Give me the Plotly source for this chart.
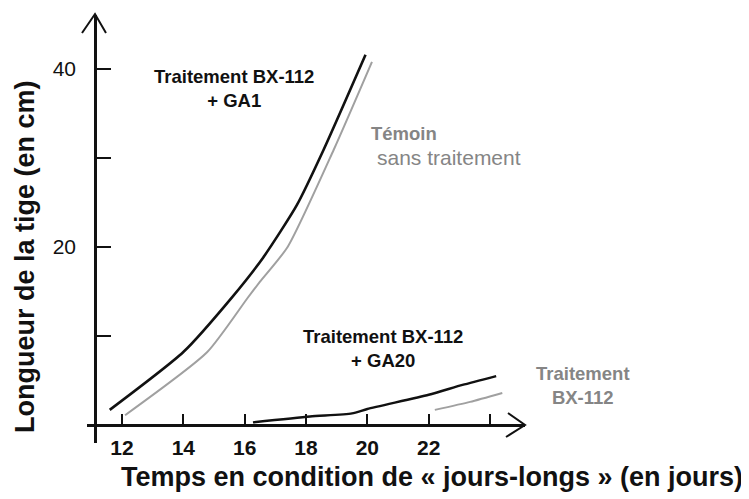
import plotly.graph_objects as go

# ---- data ----
days_ga1 = [11.6, 14.0, 15.6, 16.6, 17.7, 18.57, 19.94]
len_ga1 = [1.7, 8.2, 14.4, 18.8, 24.7, 30.9, 41.6]

days_temoin = [12.1, 14.78, 16.1, 16.5, 17.4, 18.9, 20.15]
len_temoin = [1.1, 8.2, 14.3, 16.1, 20.0, 30.9, 40.8]

days_ga20 = [16.27, 18.13, 19.5, 20.0, 22.0, 23.1, 24.2]
len_ga20 = [0.3, 0.95, 1.3, 1.8, 3.4, 4.5, 5.5]

days_bx = [22.2, 23.35, 24.4]
len_bx = [1.7, 2.6, 3.6]

x_tickvals = [12, 14, 16, 18, 20, 22, 24]
x_ticktext = ["12", "14", "16", "18", "20", "22", ""]
y_tickvals = [10, 20, 30, 40]
y_ticktext = ["", "20", "", "40"]

OFF = 8  # page body margin
FW, FH = 749 - OFF, 499 - OFF
BLACK = "#111111"
GRAY_LINE = "#a0a0a0"
GRAY_TXT = "#858585"
FONT = "Liberation Sans, Arial, sans-serif"
XTICKFONT = "Liberation Sans Narrow, Liberation Sans, sans-serif"


def px(x):
    return (x - OFF) / FW


def py(y):
    return (FH - (y - OFF)) / FH


fig = go.Figure()
fig.add_trace(go.Scatter(x=days_ga1, y=len_ga1, mode="lines",
                         line=dict(color=BLACK, width=2.6, shape="spline", smoothing=0.6)))
fig.add_trace(go.Scatter(x=days_temoin, y=len_temoin, mode="lines",
                         line=dict(color=GRAY_LINE, width=2, shape="spline", smoothing=0.6)))
fig.add_trace(go.Scatter(x=days_ga20, y=len_ga20, mode="lines",
                         line=dict(color=BLACK, width=2.4, shape="spline", smoothing=0.6)))
fig.add_trace(go.Scatter(x=days_bx, y=len_bx, mode="lines",
                         line=dict(color=GRAY_LINE, width=2, shape="spline", smoothing=0.6)))

fig.update_layout(
    width=FW, height=FH,
    margin=dict(l=0, r=0, t=0, b=0),
    paper_bgcolor="white", plot_bgcolor="white",
    showlegend=False,
    xaxis=dict(
        domain=[px(87), px(525)], range=[10.859, 25.140],
        anchor="free", position=py(425),
        showline=True, linecolor=BLACK, linewidth=2.5,
        showgrid=False, zeroline=False,
        ticks="inside", ticklen=10, tickwidth=1.5, tickcolor=BLACK,
        tickvals=x_tickvals, ticktext=["<b>%s</b>" % t if t else "" for t in x_ticktext],
        tickfont=dict(family=XTICKFONT, size=21, color=BLACK),
        ticklabelstandoff=3,
    ),
    yaxis=dict(
        domain=[py(443), py(15)], range=[-2.022, 46.07],
        anchor="free", position=px(95),
        showline=True, linecolor=BLACK, linewidth=2.5,
        showgrid=False, zeroline=False,
        ticks="inside", ticklen=14, tickwidth=1.5, tickcolor=BLACK,
        tickvals=y_tickvals, ticktext=y_ticktext,
        tickfont=dict(family=FONT, size=21, color=BLACK),
        ticklabelstandoff=14,
    ),
)

# arrowheads (open V)
fig.add_shape(type="path", xref="paper", yref="paper",
              path=f"M {px(508)},{py(413)} L {px(525)},{py(425)} L {px(506)},{py(437)}",
              line=dict(color=BLACK, width=2))
fig.add_shape(type="path", xref="paper", yref="paper",
              path=f"M {px(82)},{py(33)} L {px(95)},{py(14)} L {px(106)},{py(33)}",
              line=dict(color=BLACK, width=2))

annos = [
    dict(text="<b>Traitement BX-112<br>+ GA1</b>", x=234, y=89, color=BLACK, size=18.5),
    dict(text="<b>Témoin</b>", x=404, y=133, color=GRAY_TXT, size=18.5),
    dict(text="sans traitement", x=449, y=157, color=GRAY_TXT, size=21),
    dict(text="<b>Traitement BX-112<br>+ GA20</b>", x=383, y=348, color=BLACK, size=18.5),
    dict(text="<b>Traitement<br>BX-112</b>", x=583, y=385, color=GRAY_TXT, size=18.5),
    dict(text="<b>Temps en condition de « jours-longs » (en jours)</b>", x=432, y=477, color=BLACK, size=27),
]
for a in annos:
    fig.add_annotation(text=a["text"], x=px(a["x"]), y=py(a["y"]), xref="paper", yref="paper",
                       showarrow=False, xanchor="center", yanchor="middle",
                       font=dict(family=FONT, size=a["size"], color=a["color"]))

fig.add_annotation(text="<b>Longueur de la tige (en cm)</b>", x=px(25), y=py(257),
                   xref="paper", yref="paper", showarrow=False, textangle=-90,
                   xanchor="center", yanchor="middle",
                   font=dict(family=FONT, size=27, color=BLACK))

fig.write_html("out.html")
